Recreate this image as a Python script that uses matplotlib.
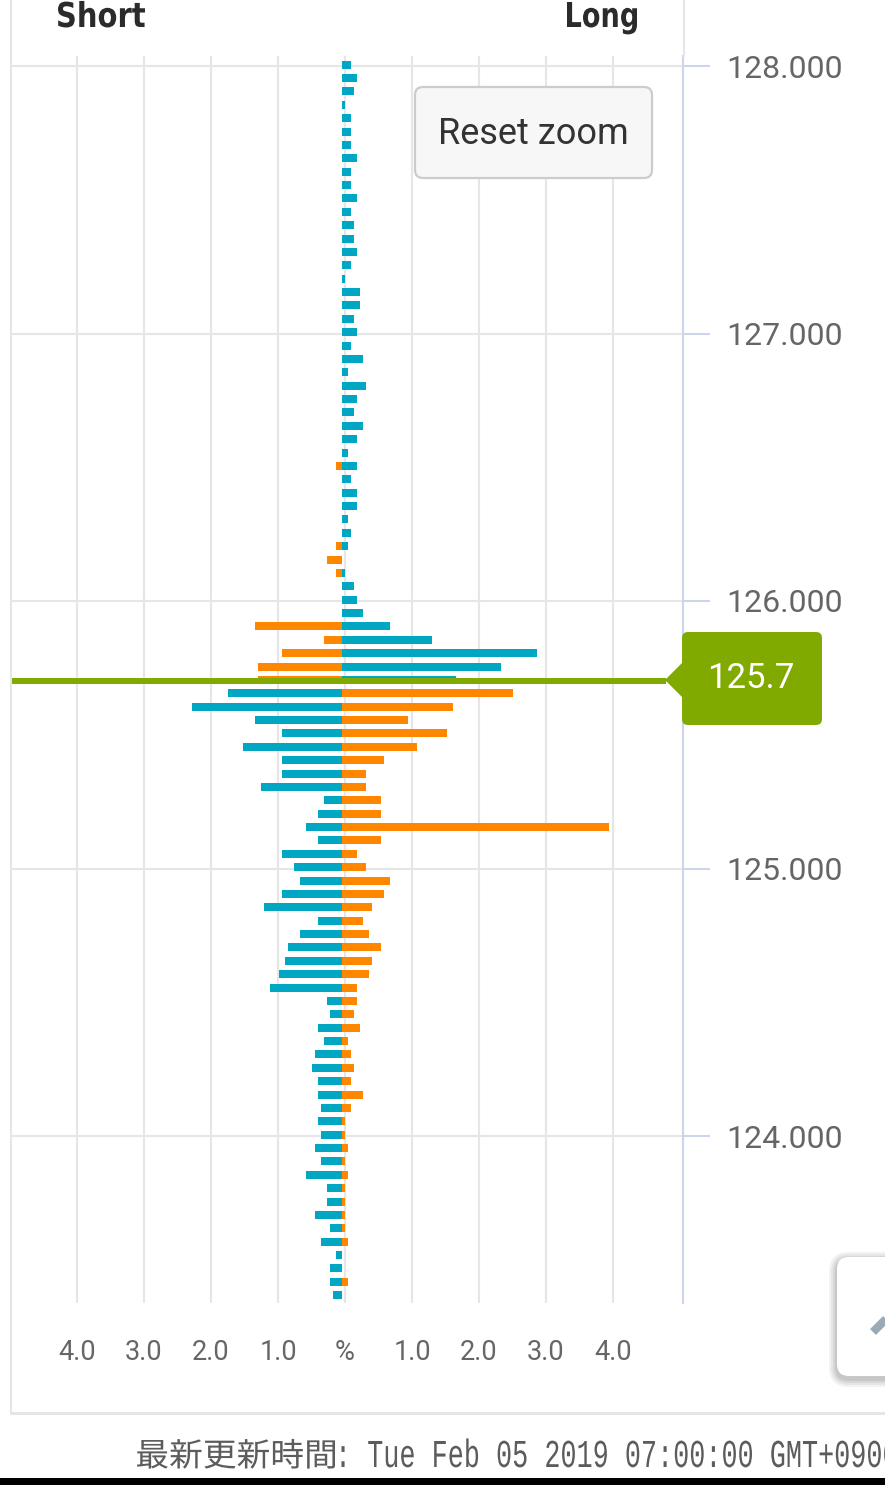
import numpy as np
import matplotlib
matplotlib.use("Agg")
import matplotlib.pyplot as plt
from matplotlib.patches import FancyBboxPatch, Polygon, PathPatch, Rectangle
from matplotlib.textpath import TextPath
from matplotlib.font_manager import FontProperties
import matplotlib.transforms as mtransforms

plt.rcParams['font.family'] = ['Roboto', 'DejaVu Sans', 'Noto Sans CJK JP']

# ---------------- data ----------------
levels = [128.00, 127.95, 127.90, 127.85, 127.80, 127.75, 127.70, 127.65, 127.60, 127.55,
          127.50, 127.45, 127.40, 127.35, 127.30, 127.25, 127.20, 127.15, 127.10, 127.05,
          127.00, 126.95, 126.90, 126.85, 126.80, 126.75, 126.70, 126.65, 126.60, 126.55,
          126.50, 126.45, 126.40, 126.35, 126.30, 126.25, 126.20, 126.15, 126.10, 126.05,
          126.00, 125.95, 125.90, 125.85, 125.80, 125.75, 125.70, 125.65, 125.60, 125.55,
          125.50, 125.45, 125.40, 125.35, 125.30, 125.25, 125.20, 125.15, 125.10, 125.05,
          125.00, 124.95, 124.90, 124.85, 124.80, 124.75, 124.70, 124.65, 124.60, 124.55,
          124.50, 124.45, 124.40, 124.35, 124.30, 124.25, 124.20, 124.15, 124.10, 124.05,
          124.00, 123.95, 123.90, 123.85, 123.80, 123.75, 123.70, 123.65, 123.60, 123.55,
          123.50, 123.45, 123.40]

short_pct = [0, 0, 0, 0, 0, 0, 0, 0, 0, 0,
             0, 0, 0, 0, 0, 0, 0, 0, 0, 0,
             0, 0, 0, 0, 0, 0, 0, 0, 0, 0,
             0.09, 0, 0, 0, 0, 0, 0.09, 0.22, 0.09, 0,
             0, 0, 1.30, 0.27, 0.90, 1.25, 1.25, 1.70, 2.24, 1.30,
             0.90, 1.48, 0.90, 0.90, 1.21, 0.27, 0.36, 0.54, 0.36, 0.90,
             0.72, 0.63, 0.90, 1.16, 0.36, 0.63, 0.81, 0.85, 0.94, 1.07,
             0.22, 0.18, 0.36, 0.27, 0.40, 0.45, 0.36, 0.36, 0.31, 0.36,
             0.31, 0.40, 0.31, 0.54, 0.22, 0.22, 0.40, 0.18, 0.31, 0.09,
             0.18, 0.18, 0.13]

long_pct = [0.13, 0.22, 0.18, 0.045, 0.13, 0.13, 0.13, 0.22, 0.13, 0.13,
            0.22, 0.13, 0.18, 0.18, 0.22, 0.13, 0.045, 0.27, 0.27, 0.18,
            0.22, 0.13, 0.31, 0.09, 0.36, 0.22, 0.18, 0.31, 0.22, 0.09,
            0.22, 0.13, 0.22, 0.22, 0.09, 0.13, 0.09, 0, 0.045, 0.18,
            0.22, 0.31, 0.72, 1.34, 2.91, 2.37, 1.70, 2.55, 1.66, 0.99,
            1.57, 1.12, 0.63, 0.36, 0.36, 0.58, 0.58, 3.99, 0.58, 0.22,
            0.36, 0.72, 0.63, 0.45, 0.31, 0.40, 0.58, 0.45, 0.40, 0.22,
            0.22, 0.18, 0.27, 0.09, 0.13, 0.18, 0.13, 0.31, 0.13, 0.045,
            0.045, 0.09, 0.045, 0.09, 0.045, 0.045, 0.045, 0.045, 0.09, 0,
            0, 0.09, 0]

current_price = 125.7
y_ticks = [124.0, 125.0, 126.0, 127.0, 128.0]
x_tick_values = [-4, -3, -2, -1, 0, 1, 2, 3, 4]
x_tick_labels = ['4.0', '3.0', '2.0', '1.0', '%', '1.0', '2.0', '3.0', '4.0']

TEAL = '#00a6c2'
ORANGE = '#ff8700'
GREEN = '#80aa00'
GRID = '#e6e6e6'
AXIS_BLUE = '#ccd6eb'

# ---------------- layout ----------------
W, H = 885, 1485
fig = plt.figure(figsize=(W / 100, H / 100), dpi=100)
fig.patch.set_facecolor('white')

AX_L, AX_R, AX_T, AX_B = 12, 683, 56, 1303
ax = fig.add_axes([AX_L / W, 1 - AX_B / H, (AX_R - AX_L) / W, (AX_B - AX_T) / H])

XPX0, XPX_PER = 342, 67.0
YPX128, YPX_PER = 66, 267.5
ax.set_xlim((AX_L - XPX0) / XPX_PER, (AX_R - XPX0) / XPX_PER)
ax.set_ylim(128 - (AX_B - YPX128) / YPX_PER, 128 + (YPX128 - AX_T) / YPX_PER)

lv = np.array(levels)
sp = np.array(short_pct)
lp = np.array(long_pct)
above = lv >= current_price - 1e-9
short_colors = np.where(above, ORANGE, TEAL)
long_colors = np.where(above, TEAL, ORANGE)
BAR_OFFSET = 0.005
BAR_H = 0.03
ax.barh(lv + BAR_OFFSET, -sp, height=BAR_H, color=short_colors, zorder=3, linewidth=0)
ax.barh(lv + BAR_OFFSET, lp, height=BAR_H, color=long_colors, zorder=3, linewidth=0)

# current price line
ax.axhline(current_price, xmin=0, xmax=(666 - AX_L) / (AX_R - AX_L), color=GREEN,
           lw=4.3, zorder=4, solid_capstyle='butt')

# axes styling
GRID_OFFSET = 0.045
ax.set_xticks([v + GRID_OFFSET for v in x_tick_values])
ax.set_xticklabels(x_tick_labels)
ax.set_yticks(y_ticks)
ax.set_yticklabels([f"{v:.3f}" for v in y_ticks])
ax.yaxis.tick_right()
ax.grid(True, color=GRID, lw=1.5, zorder=0)
ax.set_axisbelow(True)
for s in ['top', 'left', 'bottom']:
    ax.spines[s].set_visible(False)
ax.spines['right'].set_color(AXIS_BLUE)
ax.spines['right'].set_linewidth(1.5)
ax.tick_params(axis='y', length=19.4, width=1.5, color=AXIS_BLUE, pad=12,
               labelsize=23, labelcolor='#666666')
ax.tick_params(axis='x', length=0, pad=26, labelsize=19.5, labelcolor='#666666')
for lbl in ax.get_yticklabels() + ax.get_xticklabels():
    lbl.set_fontweight('normal')

# ---------------- overlay ----------------
ov = fig.add_axes([0, 0, 1, 1], zorder=5)
ov.set_xlim(0, W)
ov.set_ylim(H, 0)
ov.axis('off')


def fit_text(s, prop, x_left, baseline, cap_px, width=None, sx_abs=None, ref='H',
             color='#333333', pen_start=False):
    tp = TextPath((0, 0), s, size=100, prop=prop)
    ext = tp.get_extents()
    rext = TextPath((0, 0), ref, size=100, prop=prop).get_extents()
    sy = cap_px / rext.y1
    if width is not None:
        sx = width / ext.width
    else:
        sx = sx_abs
    x0 = x_left if pen_start else x_left - ext.x0 * sx
    tr = mtransforms.Affine2D().scale(sx, -sy).translate(x0, baseline) + ov.transData
    ov.add_patch(PathPatch(tp, transform=tr, facecolor=color, edgecolor='none', zorder=7))


bold = FontProperties(family='DejaVu Sans', weight='bold')
fit_text('Short', bold, 58, 27, 25, width=87, color='#2b2b2b')
fit_text('Long', bold, 567, 27, 25, width=70, ref='L', color='#2b2b2b')

cjk = FontProperties(family='Noto Sans CJK JP')
fit_text('最新更新時間', cjk, 137, 1466, 26, width=198, ref='最', color='#5c5c5c')
mono = FontProperties(family='Liberation Mono')
fit_text(': Tue Feb 05 2019 07:00:00 GMT+0900', mono, 335, 1467, 26,
         sx_abs=16.1 / 60.0, ref='T', color='#5c5c5c', pen_start=True)

# frame lines
ov.plot([11, 11], [0, 1413], color=GRID, lw=1.5, zorder=1)
ov.plot([11, W], [1413, 1413], color=GRID, lw=2.2, zorder=1)
ov.plot([684, 684], [0, AX_T], color=GRID, lw=1.5, zorder=1)
ov.add_patch(Rectangle((0, 1478), W, 10, facecolor='black', edgecolor='none', zorder=8))

# Reset zoom button
ov.add_patch(FancyBboxPatch((415, 87), 237, 91, boxstyle='round,pad=0,rounding_size=8',
                            facecolor='#f7f7f7', edgecolor='#cccccc', lw=1.6, zorder=6))
ov.text(533, 134, 'Reset zoom', ha='center', va='center', fontsize=26,
        color='#333333', family=['Roboto', 'DejaVu Sans'], zorder=7)

# current price label
ov.add_patch(FancyBboxPatch((682, 632), 140, 93, boxstyle='round,pad=0,rounding_size=6',
                            facecolor=GREEN, edgecolor='none', zorder=6))
ov.add_patch(Polygon([(665, 680), (683, 662), (683, 698)], closed=True,
                     facecolor=GREEN, edgecolor='none', zorder=6))
ov.text(751, 679, f"{current_price:.1f}", ha='center', va='center', fontsize=25,
        color='white', family=['Roboto', 'DejaVu Sans'], zorder=7)

# floating widget bottom-right
for i, a in enumerate([0.05, 0.05, 0.06, 0.07]):
    g = 8 - 2 * i
    ov.add_patch(FancyBboxPatch((837 - g, 1257 - g + 3), 90 + 2 * g, 119 + 2 * g,
                                boxstyle='round,pad=0,rounding_size=%d' % (12 + g),
                                facecolor='black', alpha=a, edgecolor='none', zorder=6))
ov.add_patch(FancyBboxPatch((837, 1257), 90, 119, boxstyle='round,pad=0,rounding_size=12',
                            facecolor='white', edgecolor='none', zorder=6))
ov.plot([873, 893], [1332, 1312], color='#9aabb8', lw=6, solid_capstyle='butt', zorder=7)

fig.savefig('out.png', dpi=100)
